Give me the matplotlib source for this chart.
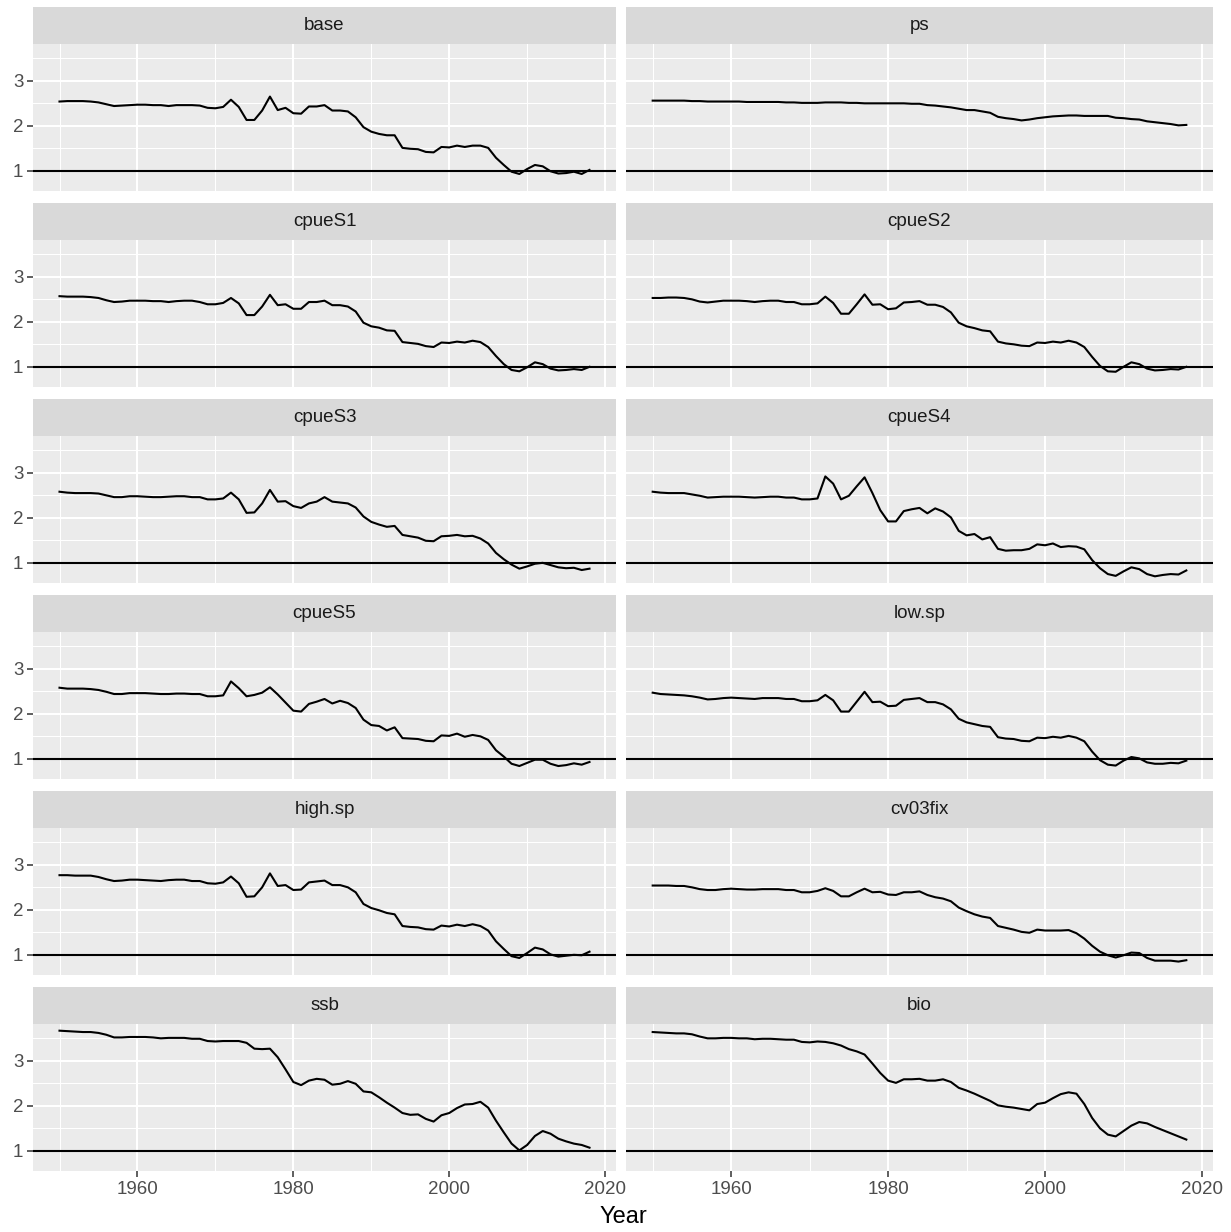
import numpy as np
import matplotlib.pyplot as plt
from matplotlib.ticker import MultipleLocator

years = np.arange(1950, 2019)

base = [2.54, 2.55, 2.55, 2.55, 2.54, 2.52, 2.48, 2.44, 2.45, 2.46,
        2.47, 2.47, 2.46, 2.46, 2.44, 2.46, 2.46, 2.46, 2.45, 2.40,
        2.39, 2.42, 2.58, 2.42, 2.13, 2.13, 2.34, 2.65, 2.35, 2.40,
        2.28, 2.27, 2.43, 2.43, 2.46, 2.34, 2.34, 2.32, 2.19, 1.97,
        1.87, 1.82, 1.79, 1.79, 1.51, 1.49, 1.48, 1.42, 1.41, 1.53,
        1.52, 1.56, 1.53, 1.56, 1.56, 1.51, 1.29, 1.13, 0.98, 0.93,
        1.04, 1.13, 1.10, 0.99, 0.94, 0.95, 0.98, 0.93, 1.02]

ps = [2.56, 2.56, 2.56, 2.56, 2.56, 2.55, 2.55, 2.54, 2.54, 2.54,
      2.54, 2.54, 2.53, 2.53, 2.53, 2.53, 2.53, 2.52, 2.52, 2.51,
      2.51, 2.51, 2.52, 2.52, 2.52, 2.51, 2.51, 2.50, 2.50, 2.50,
      2.50, 2.50, 2.50, 2.49, 2.49, 2.46, 2.45, 2.43, 2.41, 2.38,
      2.35, 2.35, 2.32, 2.29, 2.20, 2.17, 2.15, 2.12, 2.14, 2.17,
      2.19, 2.21, 2.22, 2.23, 2.23, 2.22, 2.22, 2.22, 2.22, 2.18,
      2.17, 2.15, 2.14, 2.10, 2.08, 2.06, 2.04, 2.01, 2.02]

cpueS1 = [2.57, 2.56, 2.56, 2.56, 2.55, 2.53, 2.48, 2.44, 2.45, 2.47,
          2.47, 2.47, 2.46, 2.46, 2.44, 2.46, 2.47, 2.47, 2.44, 2.39,
          2.39, 2.42, 2.53, 2.41, 2.15, 2.15, 2.34, 2.60, 2.37, 2.39,
          2.29, 2.29, 2.44, 2.44, 2.47, 2.37, 2.37, 2.34, 2.23, 1.98,
          1.90, 1.87, 1.81, 1.80, 1.55, 1.53, 1.51, 1.46, 1.44, 1.54,
          1.53, 1.56, 1.54, 1.58, 1.55, 1.44, 1.24, 1.06, 0.93, 0.90,
          0.99, 1.10, 1.06, 0.96, 0.92, 0.93, 0.95, 0.93, 1.00]

cpueS2 = [2.53, 2.53, 2.54, 2.54, 2.53, 2.50, 2.45, 2.43, 2.45, 2.47,
          2.47, 2.47, 2.46, 2.44, 2.46, 2.47, 2.47, 2.44, 2.44, 2.39,
          2.39, 2.41, 2.56, 2.42, 2.18, 2.18, 2.39, 2.61, 2.38, 2.39,
          2.28, 2.30, 2.43, 2.44, 2.46, 2.38, 2.38, 2.33, 2.21, 1.98,
          1.90, 1.86, 1.81, 1.79, 1.56, 1.52, 1.50, 1.47, 1.46, 1.54,
          1.53, 1.56, 1.54, 1.58, 1.54, 1.44, 1.22, 1.02, 0.90, 0.89,
          1.00, 1.10, 1.06, 0.96, 0.92, 0.93, 0.95, 0.94, 1.00]

cpueS3 = [2.58, 2.56, 2.55, 2.55, 2.55, 2.54, 2.50, 2.46, 2.46, 2.48,
          2.48, 2.47, 2.46, 2.46, 2.47, 2.48, 2.48, 2.46, 2.46, 2.41,
          2.41, 2.43, 2.56, 2.41, 2.11, 2.12, 2.32, 2.62, 2.36, 2.37,
          2.26, 2.22, 2.32, 2.36, 2.46, 2.36, 2.34, 2.32, 2.23, 2.03,
          1.91, 1.85, 1.80, 1.82, 1.62, 1.59, 1.56, 1.49, 1.48, 1.59,
          1.60, 1.62, 1.59, 1.60, 1.54, 1.43, 1.22, 1.08, 0.96, 0.87,
          0.92, 0.98, 1.00, 0.95, 0.90, 0.88, 0.89, 0.84, 0.87]

cpueS4 = [2.58, 2.56, 2.55, 2.55, 2.55, 2.52, 2.49, 2.45, 2.46, 2.47,
          2.47, 2.47, 2.46, 2.45, 2.46, 2.47, 2.47, 2.45, 2.45, 2.41,
          2.41, 2.43, 2.92, 2.76, 2.41, 2.49, 2.70, 2.90, 2.55, 2.17,
          1.92, 1.92, 2.15, 2.19, 2.22, 2.10, 2.21, 2.14, 2.01, 1.71,
          1.61, 1.64, 1.52, 1.57, 1.31, 1.27, 1.28, 1.28, 1.31, 1.41,
          1.39, 1.43, 1.35, 1.37, 1.36, 1.30, 1.06, 0.88, 0.75, 0.71,
          0.81, 0.90, 0.86, 0.75, 0.70, 0.73, 0.75, 0.74, 0.83]

cpueS5 = [2.58, 2.56, 2.56, 2.56, 2.55, 2.53, 2.49, 2.44, 2.44, 2.46,
          2.46, 2.46, 2.45, 2.44, 2.44, 2.45, 2.45, 2.44, 2.44, 2.39,
          2.39, 2.41, 2.72, 2.57, 2.39, 2.42, 2.47, 2.59, 2.43, 2.25,
          2.07, 2.05, 2.22, 2.27, 2.33, 2.23, 2.29, 2.24, 2.13, 1.87,
          1.75, 1.73, 1.63, 1.70, 1.46, 1.45, 1.44, 1.40, 1.39, 1.52,
          1.51, 1.56, 1.49, 1.53, 1.50, 1.42, 1.19, 1.05, 0.89, 0.84,
          0.91, 0.98, 0.98, 0.89, 0.84, 0.86, 0.90, 0.87, 0.93]

low_sp = [2.47, 2.44, 2.43, 2.42, 2.41, 2.39, 2.36, 2.32, 2.33, 2.35,
          2.36, 2.35, 2.34, 2.33, 2.35, 2.35, 2.35, 2.33, 2.33, 2.28,
          2.28, 2.30, 2.42, 2.30, 2.05, 2.05, 2.27, 2.49, 2.26, 2.27,
          2.17, 2.18, 2.31, 2.33, 2.35, 2.26, 2.26, 2.21, 2.10, 1.89,
          1.81, 1.77, 1.73, 1.71, 1.48, 1.45, 1.44, 1.40, 1.39, 1.47,
          1.46, 1.49, 1.47, 1.51, 1.47, 1.39, 1.16, 0.97, 0.87, 0.85,
          0.96, 1.04, 1.01, 0.92, 0.89, 0.89, 0.91, 0.90, 0.96]

high_sp = [2.77, 2.77, 2.76, 2.76, 2.76, 2.73, 2.68, 2.64, 2.65, 2.67,
           2.67, 2.66, 2.65, 2.64, 2.66, 2.67, 2.67, 2.64, 2.64, 2.59,
           2.58, 2.61, 2.74, 2.59, 2.29, 2.30, 2.50, 2.81, 2.53, 2.55,
           2.44, 2.45, 2.61, 2.63, 2.65, 2.55, 2.55, 2.50, 2.39, 2.13,
           2.04, 1.99, 1.93, 1.90, 1.64, 1.62, 1.61, 1.57, 1.56, 1.65,
           1.63, 1.67, 1.64, 1.68, 1.64, 1.54, 1.30, 1.13, 0.97, 0.93,
           1.04, 1.16, 1.12, 1.01, 0.96, 0.98, 1.00, 0.99, 1.07]

cv03fix = [2.54, 2.54, 2.54, 2.53, 2.53, 2.50, 2.46, 2.44, 2.44, 2.46,
           2.47, 2.46, 2.45, 2.45, 2.46, 2.46, 2.46, 2.44, 2.44, 2.39,
           2.39, 2.42, 2.48, 2.42, 2.30, 2.30, 2.39, 2.47, 2.39, 2.40,
           2.34, 2.33, 2.39, 2.39, 2.41, 2.33, 2.28, 2.25, 2.19, 2.05,
           1.97, 1.90, 1.85, 1.82, 1.64, 1.60, 1.56, 1.51, 1.49, 1.56,
           1.54, 1.54, 1.54, 1.55, 1.48, 1.36, 1.20, 1.07, 0.99, 0.94,
           0.99, 1.05, 1.04, 0.93, 0.87, 0.87, 0.87, 0.85, 0.88]

ssb = [3.67, 3.66, 3.65, 3.64, 3.64, 3.62, 3.58, 3.52, 3.52, 3.53,
       3.53, 3.53, 3.52, 3.50, 3.51, 3.51, 3.51, 3.49, 3.49, 3.44,
       3.43, 3.44, 3.44, 3.44, 3.40, 3.27, 3.26, 3.27, 3.08, 2.81,
       2.53, 2.46, 2.56, 2.60, 2.58, 2.47, 2.49, 2.55, 2.49, 2.32,
       2.30, 2.19, 2.07, 1.96, 1.84, 1.80, 1.81, 1.71, 1.65, 1.79,
       1.84, 1.95, 2.03, 2.04, 2.09, 1.96, 1.67, 1.41, 1.16, 1.01,
       1.13, 1.33, 1.44, 1.38, 1.27, 1.21, 1.16, 1.13, 1.07]

bio = [3.64, 3.63, 3.62, 3.61, 3.61, 3.59, 3.54, 3.50, 3.50, 3.51,
       3.51, 3.50, 3.50, 3.48, 3.49, 3.49, 3.48, 3.47, 3.47, 3.42,
       3.41, 3.43, 3.42, 3.39, 3.34, 3.26, 3.21, 3.14, 2.94, 2.73,
       2.56, 2.51, 2.59, 2.59, 2.60, 2.56, 2.56, 2.59, 2.53, 2.40,
       2.34, 2.27, 2.19, 2.11, 2.01, 1.98, 1.96, 1.93, 1.90, 2.04,
       2.07, 2.17, 2.26, 2.30, 2.27, 2.04, 1.73, 1.50, 1.36, 1.32,
       1.44, 1.56, 1.64, 1.61, 1.53, 1.46, 1.39, 1.32, 1.25]

run_names = ["base", "ps", "cpueS1", "cpueS2", "cpueS3", "cpueS4",
             "cpueS5", "low.sp", "high.sp", "cv03fix", "ssb", "bio"]
run_values = [base, ps, cpueS1, cpueS2, cpueS3, cpueS4,
              cpueS5, low_sp, high_sp, cv03fix, ssb, bio]

plt.rcParams['font.family'] = ['Liberation Sans', 'DejaVu Sans']

W, H = 1231, 1232
fig = plt.figure(figsize=(W / 100, H / 100), dpi=100)

# shared scales, ggplot style 5% expansion
allv = np.concatenate([np.array(v) for v in run_values])
ymin, ymax = allv.min(), allv.max()
ypad = (ymax - ymin) * 0.05
xpad = (years[-1] - years[0]) * 0.05

col_x = [(33, 616), (626, 1213)]
panel_h = 147
strip_h = 37
pitch = 196
top0 = 44

def frac(x0, x1, top, h):
    return [x0 / W, 1 - (top + h) / H, (x1 - x0) / W, h / H]

for i, (name, vals) in enumerate(zip(run_names, run_values)):
    row, col = divmod(i, 2)
    x0, x1 = col_x[col]
    top = top0 + row * pitch

    ax = fig.add_axes(frac(x0, x1, top, panel_h))
    ax.set_facecolor('#EBEBEB')
    ax.plot(years, vals, color='black', lw=1.5)
    ax.axhline(1, color='black', lw=1.5)
    ax.set_xlim(years[0] - xpad, years[-1] + xpad)
    ax.set_ylim(ymin - ypad, ymax + ypad)
    ax.xaxis.set_major_locator(MultipleLocator(20))
    ax.xaxis.set_minor_locator(MultipleLocator(10))
    ax.yaxis.set_major_locator(MultipleLocator(1))
    ax.yaxis.set_minor_locator(MultipleLocator(0.5))
    ax.grid(which='major', color='white', lw=1.5)
    ax.grid(which='minor', color='white', lw=0.75)
    ax.set_axisbelow(True)
    for s in ax.spines.values():
        s.set_visible(False)
    ax.tick_params(which='minor', length=0)
    ax.tick_params(which='major', length=4, width=1.1, color='#333333',
                   labelcolor='#4D4D4D', labelsize=13.5, pad=3)
    if col == 1:
        ax.tick_params(axis='y', which='major', length=0, labelleft=False)
    if row < 5:
        ax.tick_params(axis='x', which='major', length=0, labelbottom=False)

    sax = fig.add_axes(frac(x0, x1, top - strip_h, strip_h))
    sax.set_facecolor('#D9D9D9')
    sax.set_xticks([])
    sax.set_yticks([])
    for s in sax.spines.values():
        s.set_visible(False)
    sax.text(0.5, 0.5, name, ha='center', va='center', fontsize=13.5,
             color='#1A1A1A', transform=sax.transAxes)

fig.text((33 + 1213) / 2 / W, 1 - 1217 / H, 'Year', ha='center', va='center',
         fontsize=17, color='black')

fig.savefig('out.png', dpi=100, facecolor='white')
